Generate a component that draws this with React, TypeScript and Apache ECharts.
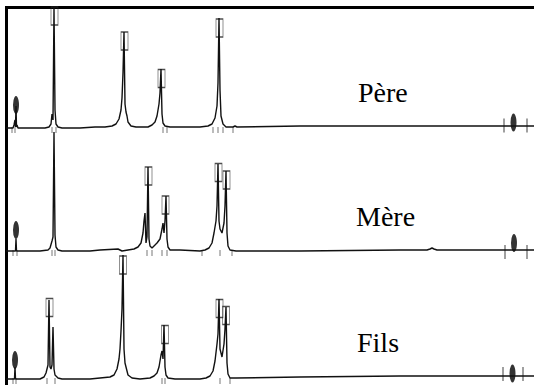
import React, { useEffect, useRef } from "react";
import * as echarts from "echarts";

// ---- data (x: migration position, y: signal) ----
const panelNames = ["Père", "Mère", "Fils"];

const pereTrace: number[][] = [
  [6, 0], [13, 0], [14, 3], [15, 8], [15.5, 1], [16, 22], [16.5, 1], [17, 3], [18, 0], [30, 0], [45, 0], [49, 1], [51, 4], [52, 14], [53, 8],
  [54, 120], [55, 18], [56, 4], [58, 1], [62, 0], [80, 0], [95, 1], [105, 1], [112, 2], [116, 4], [119, 9],
  [121, 18], [122, 30], [123, 55], [124, 96], [125, 24], [126, 16], [127, 12], [128, 6], [131, 2], [136, 1],
  [148, 1], [152, 3], [155, 6], [157, 12], [159, 24], [160, 35], [161, 59], [162, 14], [163, 5], [165, 2],
  [170, 1], [200, 1], [208, 2], [212, 4], [215, 10], [217, 22], [218, 45], [219, 110], [220, 38], [221, 12],
  [223, 4], [226, 1], [233, 1], [235, 2], [237, 1], [300, 2], [400, 2], [500, 2], [534, 2],
];
const mereTrace: number[][] = [
  [6, 0], [15.5, 0], [16, 12], [16.5, 0], [40, 0], [48, 1], [50, 3], [52, 10], [53, 14], [54, 119], [55, 16],
  [56, 4], [58, 1], [62, 0], [90, 0], [100, 1], [118, 2], [122, 0], [128, 1], [134, 2], [138, 4], [141, 8],
  [143, 18], [144, 30], [145, 38], [146, 8], [147, 14], [148, 84], [149, 12], [150, 5], [152, 3], [154, 5],
  [157, 8], [160, 12], [162, 22], [163, 28], [164, 18], [165, 30], [166, 55], [167, 12], [168, 4], [170, 1],
  [180, 1], [200, 0], [205, 1], [209, 3], [212, 8], [214, 18], [216, 30], [217, 45], [218, 87], [219, 30],
  [220, 22], [222, 18], [224, 28], [225, 45], [226, 80], [227, 18], [228, 5], [230, 1], [236, 0], [300, 0],
  [400, 1], [427, 1], [430, 2], [432, 3], [434, 2], [437, 1], [500, 1], [534, 1],
];
const filsTrace: number[][] = [
  [6, 0], [14.5, 0], [15, 12], [15.5, 0], [30, 0], [40, 0], [44, 2], [46, 6], [47, 10], [48, 14], [49, 79],
  [50, 12], [51, 10], [52, 14], [53, 52], [54, 10], [55, 4], [58, 1], [62, 0], [90, 0], [100, 1], [110, 2],
  [114, 4], [117, 10], [119, 20], [120, 30], [121, 48], [122, 70], [123, 124], [124, 30], [125, 16], [126, 12],
  [128, 4], [132, 1], [140, 0], [150, 1], [154, 3], [157, 6], [159, 12], [161, 24], [162, 28], [163, 20],
  [164, 54], [165, 12], [166, 4], [168, 1], [175, 0], [200, 0], [206, 1], [210, 3], [213, 8], [215, 18],
  [217, 35], [218, 45], [219, 80], [220, 30], [222, 22], [224, 35], [225, 50], [226, 72], [227, 16], [228, 5],
  [230, 1], [236, 1], [300, 2], [400, 3], [500, 3], [534, 3],
];

// boxed allele peaks (box centres)
const pereBoxes: number[][] = [[54.5, 112], [124.5, 87], [161.5, 49.5], [219.5, 100]];
const mereBoxes: number[][] = [[148.5, 75], [165.5, 46], [218.5, 78.5], [226.5, 71]];
const filsBoxes: number[][] = [[49.5, 71.5], [123, 114], [165, 44.5], [219.5, 70.5], [226, 63.5]];

// size markers (filled blobs)
const pereMarkers: number[][] = [[16, 23], [513.5, 5.5]];
const mereMarkers: number[][] = [[16, 21], [514, 8]];
const filsMarkers: number[][] = [[15, 19], [512.5, 5.5]];

// small ticks under the baseline
const pereTicks: number[] = [12, 15, 52, 56, 163, 167, 213, 218, 223, 233];
const mereTicks: number[] = [13, 17, 52, 55, 147, 152, 162, 167, 202, 220, 232];
const filsTicks: number[] = [13, 16, 47, 55, 162, 165, 220, 230];

// marker brackets (long ticks) at the right end
const pereBrackets: number[][] = [[504, 2.5], [527, 2.5]];
const mereBrackets: number[][] = [[505, -1], [527, -1]];
const filsBrackets: number[][] = [[503, 5], [523, 5]];

const traces = [pereTrace, mereTrace, filsTrace];
const boxes = [pereBoxes, mereBoxes, filsBoxes];
const markers = [pereMarkers, mereMarkers, filsMarkers];
const ticks = [pereTicks, mereTicks, filsTicks];
const brackets = [pereBrackets, mereBrackets, filsBrackets];

// ---- layout ----
const W = 534;
const H = 385;
const baselines = [128, 251, 379];
const Y_MAX = 125;
const Y_MIN = -6;
const labelX = [358, 356, 357];
const labelY = [92, 216, 342];

export default function App() {
  const ref = useRef<HTMLDivElement>(null);
  useEffect(() => {
    if (!ref.current) return;
    const chart = echarts.init(ref.current, null, { renderer: "svg" });
    const grids: any[] = [];
    const xAxes: any[] = [];
    const yAxes: any[] = [];
    const series: any[] = [];
    baselines.forEach((b, i) => {
      grids.push({ left: 6, width: W - 6, top: b - Y_MAX, height: Y_MAX - Y_MIN, containLabel: false });
      xAxes.push({ type: "value", gridIndex: i, min: 6, max: 534, show: false });
      yAxes.push({ type: "value", gridIndex: i, min: Y_MIN, max: Y_MAX, show: false });
      series.push({
        type: "line",
        xAxisIndex: i,
        yAxisIndex: i,
        data: traces[i],
        showSymbol: false,
        lineStyle: { color: "#111", width: 1.4 },
        silent: true,
      });
      series.push({
        type: "scatter",
        xAxisIndex: i,
        yAxisIndex: i,
        data: boxes[i],
        symbol: "rect",
        symbolSize: [7, 18],
        itemStyle: { color: "rgba(0,0,0,0)", borderColor: "#222", borderWidth: 1 },
        silent: true,
      });
      series.push({
        type: "scatter",
        xAxisIndex: i,
        yAxisIndex: i,
        data: markers[i],
        symbol: "circle",
        symbolSize: [6, 18],
        itemStyle: { color: "#000" },
        silent: true,
      });
      series.push({
        type: "scatter",
        xAxisIndex: i,
        yAxisIndex: i,
        data: ticks[i].map((x) => [x, -2]),
        symbol: "rect",
        symbolSize: [1, 6],
        itemStyle: { color: "#555" },
        silent: true,
      });
      series.push({
        type: "scatter",
        xAxisIndex: i,
        yAxisIndex: i,
        data: brackets[i],
        symbol: "rect",
        symbolSize: [1, 14],
        itemStyle: { color: "#111" },
        silent: true,
      });
    });

    const graphic: any[] = [
      { type: "rect", shape: { x: 5, y: 6, width: W - 5, height: 3 }, style: { fill: "#000" } },
      { type: "rect", shape: { x: 5, y: 6, width: 3, height: H - 6 }, style: { fill: "#000" } },
    ];
    panelNames.forEach((name, i) => {
      graphic.push({
        type: "text",
        x: labelX[i],
        y: labelY[i],
        style: {
          text: name,
          fill: "#000",
          font: '28px "Liberation Serif", "DejaVu Serif", serif',
          textVerticalAlign: "middle",
          verticalAlign: "middle",
        },
      });
    });

    chart.setOption({
      animation: false,
      backgroundColor: "#fff",
      grid: grids,
      xAxis: xAxes,
      yAxis: yAxes,
      series,
      graphic,
    });
    return () => chart.dispose();
  }, []);
  return (
    <div
      ref={ref}
      style={{ position: "fixed", left: 0, top: 0, width: W, height: H, background: "#fff" }}
    />
  );
}
